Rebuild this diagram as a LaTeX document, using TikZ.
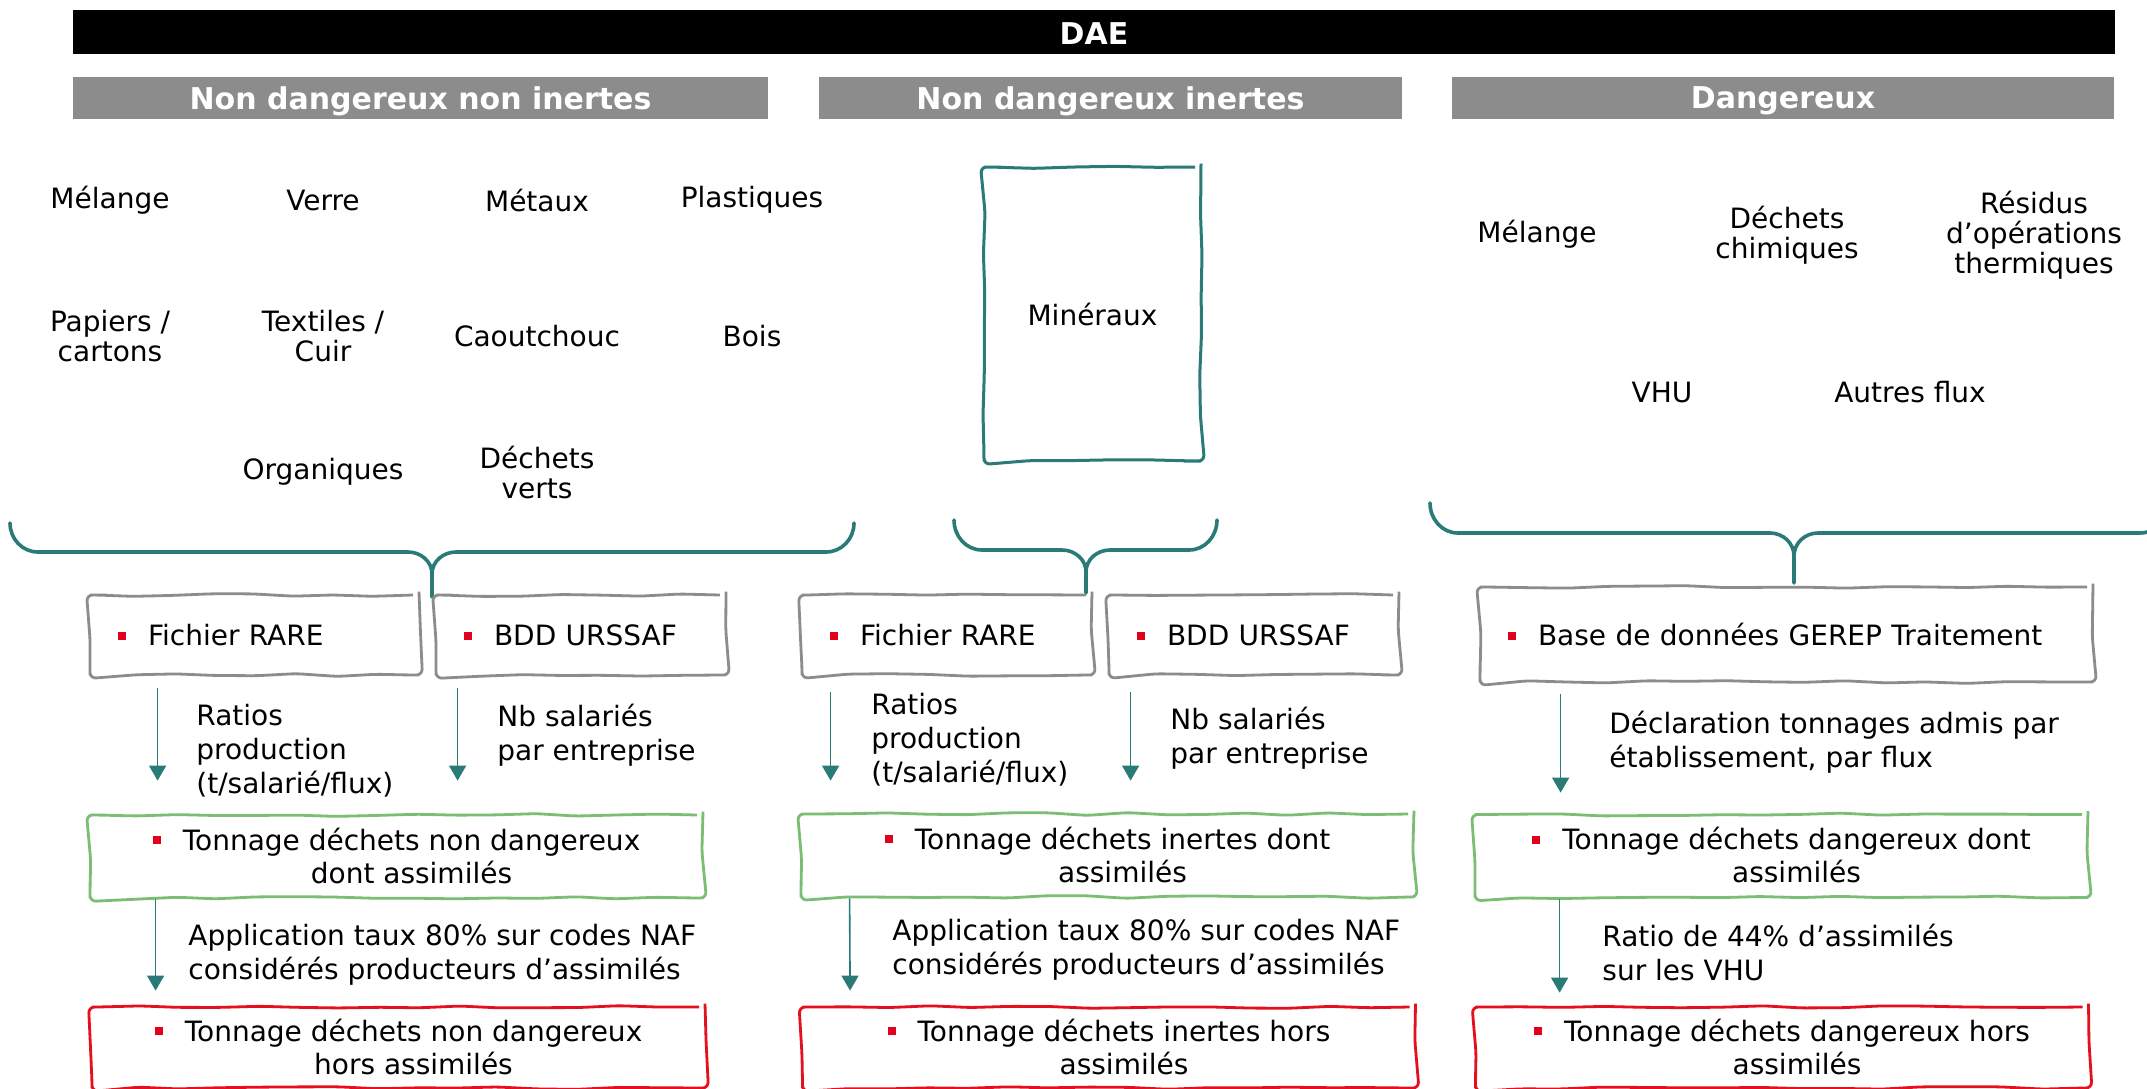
\documentclass[tikz,border=0pt]{standalone}
\usepackage{fontspec}
\setmainfont{DejaVu Sans}
\usetikzlibrary{arrows.meta,decorations.pathmorphing,calc}
\definecolor{teal1}{RGB}{42,122,120}
\definecolor{hdrgray}{RGB}{140,140,140}
\definecolor{boxgray}{RGB}{140,140,140}
\definecolor{boxgreen}{RGB}{122,190,115}
\definecolor{boxred}{RGB}{228,16,30}
\definecolor{bulred}{RGB}{226,0,26}
\newcommand\bulletsq{\textcolor{bulred}{\rule[2.8pt]{4pt}{4pt}}\hspace{11pt}}
\begin{document}
\pgfmathsetseed{7}
\begin{tikzpicture}[x=0.5pt,y=-0.5pt,
  font=\fontsize{14}{17}\selectfont,
  hdr/.style={fill=hdrgray, text=white, font=\fontsize{15}{18}\selectfont\bfseries, minimum height=21pt, inner sep=0pt, text depth=0pt},
  cat/.style={align=center, font=\fontsize{14}{15}\selectfont, inner sep=0pt},
  sketch/.style={decorate, decoration={random steps, segment length=20pt, amplitude=0.7pt}, rounded corners=3pt},
  srcbox/.style={draw=boxgray, line width=1.4pt, sketch, minimum height=40pt, inner xsep=14pt, inner ysep=0pt, align=left, text width=#1},
  resbox/.style={line width=1.4pt, sketch, minimum width=306.5pt, inner sep=0pt, font=\fontsize{14}{16.5}\selectfont, text height=15pt},
  lbl/.style={anchor=west, align=left, inner sep=0pt},
  arr/.style={draw=teal1, line width=0.8pt, -{Triangle[width=8.5pt,length=7.5pt,fill=teal1]}},
  brace/.style={draw=teal1, line width=1.8pt, line cap=round}]
\useasboundingbox (0,0) rectangle (2147,1088);
\clip (0,0) rectangle (2147,1088);
\fill[white] (0,0) rectangle (2147,1088);

% title bars
\node[fill=black, text=white, font=\fontsize{15}{18}\selectfont\bfseries, minimum width=1021pt, minimum height=22pt, inner sep=0pt, text height=12.9pt, text depth=0pt] (dae) at (1094,32) {DAE};
\node[hdr, minimum width=347.5pt] (h1) at (420.5,98) {Non dangereux non inertes};
\node[hdr, minimum width=291.5pt] (h2) at (1110.5,98) {Non dangereux inertes};
\node[hdr, minimum width=331pt] (h3) at (1783,98) {Dangereux};

% categories non dangereux non inertes
\node[cat] (c1) at (110,200) {Mélange};
\node[cat] (c2) at (323,200) {Verre};
\node[cat] (c3) at (537,200) {Métaux};
\node[cat] (c4) at (752,200) {Plastiques};
\node[cat] (c5) at (110,336) {Papiers /\\cartons};
\node[cat] (c6) at (323,336) {Textiles /\\Cuir};
\node[cat] (c7) at (537,336) {Caoutchouc};
\node[cat] (c8) at (752,336) {Bois};
\node[cat] (c9) at (323,472) {Organiques};
\node[cat] (c10) at (537,472) {Déchets\\verts};

% inertes
\node[draw=teal1, line width=1.5pt, sketch, minimum width=108.5pt, minimum height=147pt] (mine) at (1092.5,314) {Minéraux};

% dangereux
\node[cat] (d1) at (1537,234) {Mélange};
\node[cat] (d2) at (1787,235) {Déchets\\chimiques};
\node[cat] (d3) at (2034,235) {Résidus\\d’opérations\\thermiques};
\node[cat] (d4) at (1662,392) {VHU};
\node[cat] (d5) at (1910,392) {Autres flux};

% braces
\draw[brace] (10,523) to[out=-90,in=180] (38,552) -- (408,552) to[out=0,in=90] (432,574) -- (432,597);
\draw[brace] (854,523) to[out=-90,in=0] (826,552) -- (456,552) to[out=180,in=90] (432,574);
\draw[brace] (954,520) to[out=-90,in=180] (982,550) -- (1062,550) to[out=0,in=90] (1086,572) -- (1086,593);
\draw[brace] (1217,520) to[out=-90,in=0] (1189,550) -- (1110,550) to[out=180,in=90] (1086,572);
\draw[brace] (1430,503) to[out=-90,in=180] (1458,533) -- (1770,533) to[out=0,in=90] (1794,556) -- (1794,583);
\draw[brace] (2168,503) to[out=-90,in=0] (2140,533) -- (1818,533) to[out=180,in=90] (1794,556);

% source boxes
\node[srcbox=136.5pt] (rare1) at (254.5,635) {\bulletsq Fichier RARE};
\node[srcbox=117pt] (bdd1) at (581,635) {\bulletsq BDD URSSAF};
\node[srcbox=117pt] (rare2) at (947,635) {\bulletsq Fichier RARE};
\node[srcbox=117pt] (bdd2) at (1254,635) {\bulletsq BDD URSSAF};
\node[srcbox=278.5pt, minimum height=47.5pt] (gerep) at (1786.5,634.5) {\bulletsq Base de données GEREP Traitement};

% result boxes (dont assimilés)
\node[resbox, draw=boxgreen, minimum height=41.5pt] (g1) at (396.5,856.5) {\bulletsq\begin{tabular}[t]{@{}c@{}}Tonnage déchets non dangereux\\dont assimilés\end{tabular}};
\node[resbox, draw=boxgreen, minimum height=41.5pt] (g2) at (1107.5,855.5) {\bulletsq\begin{tabular}[t]{@{}c@{}}Tonnage déchets inertes dont\\assimilés\end{tabular}};
\node[resbox, draw=boxgreen, minimum height=41.5pt] (g3) at (1781.5,856) {\bulletsq\begin{tabular}[t]{@{}c@{}}Tonnage déchets dangereux dont\\assimilés\end{tabular}};

% result boxes (hors assimilés)
\node[resbox, draw=boxred, minimum height=40.5pt] (r1) at (398.5,1047.5) {\bulletsq\begin{tabular}[t]{@{}c@{}}Tonnage déchets non dangereux\\hors assimilés\end{tabular}};
\node[resbox, draw=boxred, minimum height=40.5pt] (r2) at (1109,1047.5) {\bulletsq\begin{tabular}[t]{@{}c@{}}Tonnage déchets inertes hors\\assimilés\end{tabular}};
\node[resbox, draw=boxred, minimum height=40.5pt] (r3) at (1782,1047.5) {\bulletsq\begin{tabular}[t]{@{}c@{}}Tonnage déchets dangereux hors\\assimilés\end{tabular}};

% arrow labels
\node[lbl] (t1) at (196,751) {Ratios\\production\\(t/salarié/flux)};
\node[lbl] (t2) at (497,735) {Nb salariés\\par entreprise};
\node[lbl] (t3) at (871,740) {Ratios\\production\\(t/salarié/flux)};
\node[lbl] (t4) at (1170,738) {Nb salariés\\par entreprise};
\node[lbl] (t5) at (188,955) {Application taux 80\% sur codes NAF\\considérés producteurs d’assimilés};
\node[lbl] (t6) at (892,950) {Application taux 80\% sur codes NAF\\considérés producteurs d’assimilés};
\node[lbl] (t7) at (1609,742) {Déclaration tonnages admis par\\établissement, par flux};
\node[lbl] (t8) at (1602,952) {Ratio de 44\% d’assimilés\\sur les VHU};

% arrows
\draw[arr] ($(rare1.south west)+(69,12)$) -- ($(g1.north west)+(69,-33)$);
\draw[arr] ($(bdd1.south west)+(23,12)$) -- ($(g1.north west)+(369,-33)$);
\draw[arr] ($(g1.south west)+(67,0)$) -- ($(r1.north west)+(65,-15)$);
\draw[arr] ($(rare2.south west)+(30,16)$) -- ($(g2.north west)+(31,-32)$);
\draw[arr] ($(bdd2.south west)+(23,16)$) -- ($(g2.north west)+(331,-32)$);
\draw[arr] ($(g2.south west)+(50,0)$) -- ($(r2.north west)+(49,-15)$);
\draw[arr] ($(gerep.south west)+(82,11)$) -- ($(g3.north west)+(87,-20.5)$);
\draw[arr] ($(g3.south west)+(86,0)$) -- ($(r3.north west)+(85.5,-13)$);
\end{tikzpicture}
\end{document}
